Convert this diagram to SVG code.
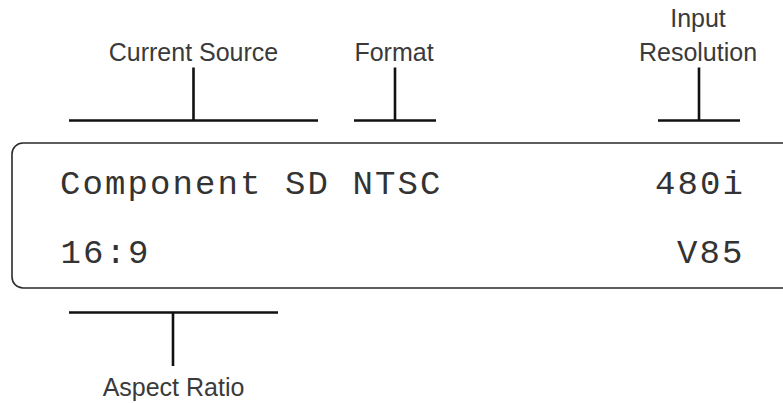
<svg xmlns="http://www.w3.org/2000/svg" width="783" height="403" viewBox="0 0 783 403">
<style>
.lbl{font-family:"Liberation Sans",Arial,sans-serif;font-size:25px;fill:#3a3a3a;text-anchor:middle}
.lcd{font-family:"Liberation Mono","Courier New",monospace;font-size:34px;fill:#333;letter-spacing:2.1px}
.br{stroke:#111;stroke-width:2.6;fill:none}
.box{fill:#fff;stroke:#2a2a2a;stroke-width:1.6}
</style>
<rect width="783" height="403" fill="#fff"/>
<g id="display">
<rect class="box" x="12" y="143" width="790" height="145" rx="11"/>
<text class="lcd" x="60" y="194">Component SD NTSC</text>
<text class="lcd" x="655" y="194">480i</text>
<text class="lcd" x="60.5" y="263">16:9</text>
<text class="lcd" x="677" y="263">V85</text>
</g>
<g id="label-current-source"><text class="lbl" x="193.5" y="61">Current Source</text></g>
<g id="label-format"><text class="lbl" x="394" y="61">Format</text></g>
<g id="label-input-resolution"><text class="lbl" x="698" y="27">Input</text><text class="lbl" x="698" y="61">Resolution</text></g>
<g id="label-aspect-ratio"><text class="lbl" x="173.5" y="396">Aspect Ratio</text></g>
<g id="connectors">
<path class="br" d="M69 120.5H318M193.5 67.5V120.5"/>
<path class="br" d="M354 120.5H436M395 67.5V120.5"/>
<path class="br" d="M658 120.5H740M699 67.5V120.5"/>
<path class="br" d="M69 312.5H278M173 312.5V366"/>
</g>
</svg>
